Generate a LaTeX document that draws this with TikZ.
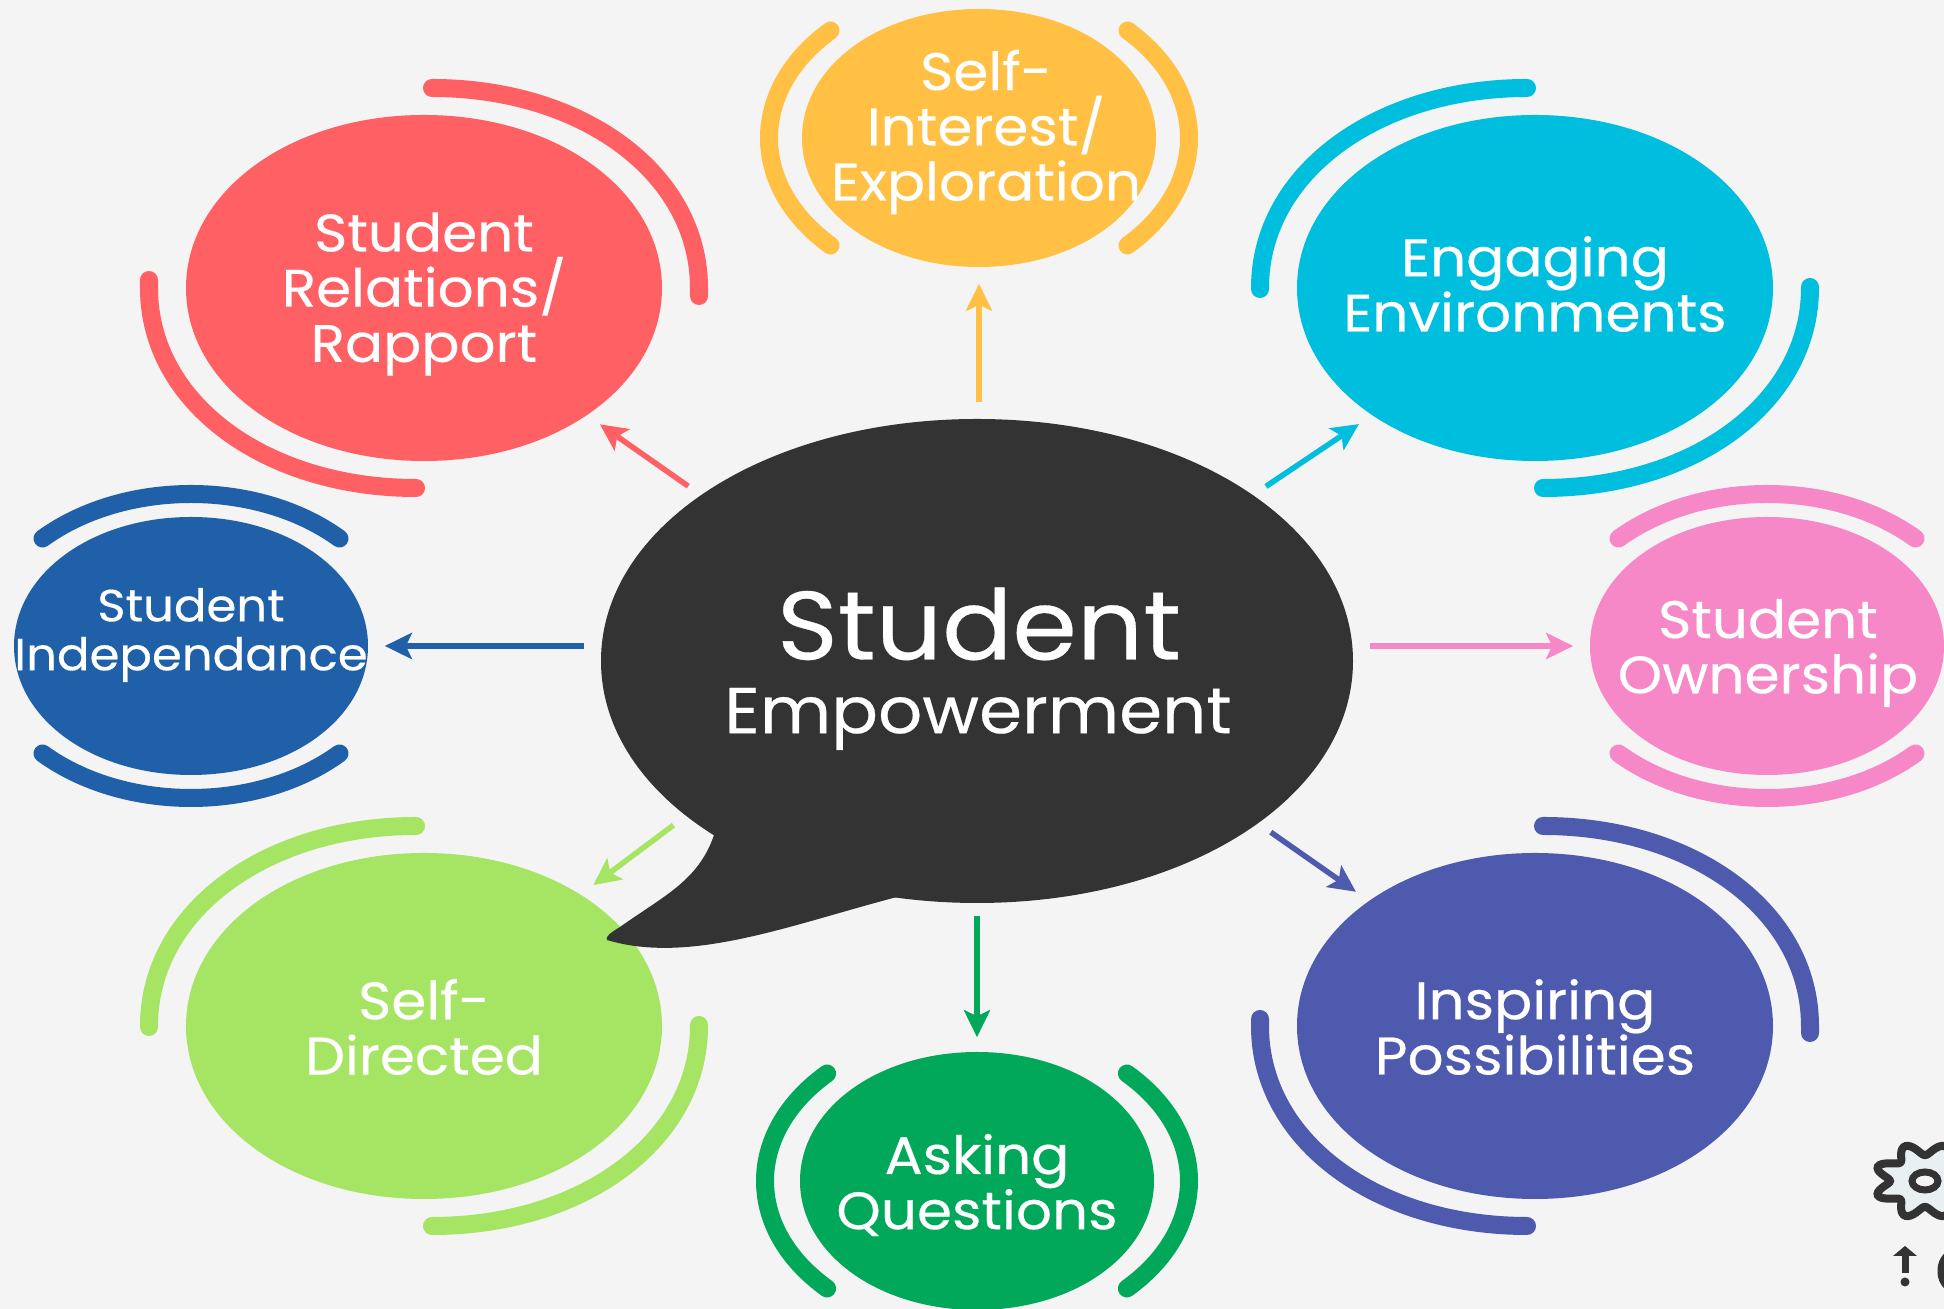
\documentclass[tikz,border=0pt]{standalone}
\usepackage{fontspec}
\setmainfont{Poppins}[FakeStretch=1.07,FakeBold=0.35]
\usetikzlibrary{arrows.meta,shapes.geometric}

\definecolor{pagegrey}{HTML}{F4F4F4}
\definecolor{inkdark}{HTML}{333333}
\definecolor{redrel}{HTML}{FF6064}
\definecolor{orangeint}{HTML}{FFC043}
\definecolor{cyanenv}{HTML}{00BEDD}
\definecolor{blueind}{HTML}{2060A8}
\definecolor{pinkown}{HTML}{F788C8}
\definecolor{limedir}{HTML}{A6E463}
\definecolor{greenask}{HTML}{02A85A}
\definecolor{indigoins}{HTML}{4D5AAD}
\definecolor{gearpale}{HTML}{E8F0F2}

\tikzset{
  bigdisc/.style={ellipse,inner sep=0pt,minimum width=4.76cm,minimum height=3.46cm},
  smalldisc/.style={ellipse,inner sep=0pt,minimum width=3.54cm,minimum height=2.58cm},
  disctext/.style={text=white,align=center,font=\fontsize{15}{15.7}\selectfont},
  ring/.style={line width=0.18cm,line cap=round},
  spoke/.style={-{Stealth[length=0.27cm,width=0.26cm,inset=0.06cm]},line width=0.055cm,
                shorten <=0.16cm,shorten >=0.16cm},
}

% a slightly fuller oval than the ellipse: colour, node, half width, half height
\newcommand{\blob}[4]{\fill[#1] (#2.center) ++(#3,0)
  .. controls +(0,.56*#4) and +(.56*#3,0) .. ++(-#3,#4)
  .. controls +(-.56*#3,0) and +(0,.56*#4) .. ++(-#3,-#4)
  .. controls +(0,-.56*#4) and +(-.56*#3,0) .. ++(#3,-#4)
  .. controls +(.56*#3,0) and +(0,-.56*#4) .. ++(#3,#4) -- cycle;}
% the two quarter rings of a big disc: colour, node, mirror, overshoot
\newcommand{\rings}[4]{\foreach \turn in {0,180}
  \draw[ring,#1,shift={(#2.center)},rotate=\turn,xscale=#3] (8,200)
    .. controls (158,200) and (275,115) .. (275,0) -- (275,-#4);}

\begin{document}
\begin{tikzpicture}[x=0.01cm,y=0.01cm]
  \useasboundingbox[fill=pagegrey] (0,0) rectangle (1944,1309);

  % outer discs
  \node[bigdisc]   (relations) at (424,1021)  {};
  \node[bigdisc]   (engaging)  at (1535,1021) {};
  \node[bigdisc]   (directed)  at (424,283)   {};
  \node[bigdisc]   (inspiring) at (1535,283)  {};
  \node[smalldisc] (interest)  at (979,1171)  {};
  \node[smalldisc] (asking)    at (977,128)   {};
  \node[smalldisc] (independ)  at (191,663)   {};
  \node[smalldisc] (ownership) at (1767,663)  {};
  \blob{redrel}{relations}{238}{173}
  \blob{cyanenv}{engaging}{238}{173}
  \blob{limedir}{directed}{238}{173}
  \blob{indigoins}{inspiring}{238}{173}
  \blob{orangeint}{interest}{177}{129}
  \blob{greenask}{asking}{177}{129}
  \blob{blueind}{independ}{177}{129}
  \blob{pinkown}{ownership}{177}{129}

  % their texts
  \node[disctext] (relationstext) at (424,1015)  {Student\\Relations/\\Rapport};
  \node[disctext] (engagingtext)  at (1535,1025) {Engaging\\Environments};
  \node[disctext] (directedtext)  at (424,282)   {Self-\\Directed};
  \node[disctext] (inspiringtext) at (1535,282)  {Inspiring\\Possibilities};
  \node[disctext] (interesttext)  at (986,1177)  {Self-\\Interest/\\Exploration};
  \node[disctext] (askingtext)    at (977,124)   {Asking\\Questions};
  \node[disctext,font=\fontsize{12.8}{13.9}\selectfont] (independtext) at (191,674) {Student\\Independance};
  \node[disctext] (ownershiptext) at (1768,656)  {Student\\Ownership};

  % speech bubble
  \node[ellipse,inner sep=0pt,minimum width=7.52cm,minimum height=4.84cm] (bubble) at (977,648) {};
  \blob{inkdark}{bubble}{376}{242}
  \fill[inkdark] (715,477) .. controls (700,429) and (665,414) .. (620,382)
        .. controls (610,376) and (605,372) .. (607,369)
        .. controls (690,344) and (790,384) .. (897,412) -- (977,509) -- cycle;
  \node[text=white,font=\fontsize{27.6}{27.6}\selectfont] (bubbletop) at (979,685) {Student};
  \node[text=white,font=\fontsize{18.4}{18.4}\selectfont] (bubblelow) at (978,590) {Empowerment};

  % rings
  \rings{redrel}{relations}{1}{8}
  \rings{indigoins}{inspiring}{1}{7}
  \rings{cyanenv}{engaging}{-1}{1}
  \rings{limedir}{directed}{-1}{1}
  \draw[ring,orangeint] (interest.center) ++(135:210 and 152) arc (135:225:210 and 152);
  \draw[ring,orangeint] (interest.center) ++(45:210 and 152) arc (45:-45:210 and 152);
  \draw[ring,greenask]  (asking.center) ++(135:212 and 152) arc (135:225:212 and 152);
  \draw[ring,greenask]  (asking.center) ++(45:212 and 152) arc (45:-45:212 and 152);
  \draw[ring,blueind]   (independ.center) ++(45:210 and 152) arc (45:135:210 and 152);
  \draw[ring,blueind]   (independ.center) ++(225:210 and 152) arc (225:315:210 and 152);
  \draw[ring,pinkown]   (ownership.center) ++(45:210 and 152) arc (45:135:210 and 152);
  \draw[ring,pinkown]   (ownership.center) ++(225:210 and 152) arc (225:315:210 and 152);

  % arrows
  \draw[spoke,orangeint] (interest.270 |- bubble.90) -- (interest.270);
  \draw[spoke,redrel]    (bubble.149) -- (relations.322);
  \draw[spoke,cyanenv]   (bubble.31)  -- (engaging.218);
  \draw[spoke,blueind]   (independ.0 -| bubble.180) -- (independ.0);
  \draw[spoke,pinkown]   (ownership.180 -| bubble.0) -- (ownership.180);
  \draw[spoke,limedir]   (bubble.208) -- (directed.40);
  \draw[spoke,indigoins] (bubble.330) -- (inspiring.143);
  \draw[spoke,greenask,shorten <=0.12cm,shorten >=0.14cm] (bubble.270) -- (asking.90);

  % cut off icons in the corner
  \draw[inkdark,fill=gearpale,line width=0.08cm] plot[domain=0:360,samples=145,smooth]
        ({1925+(43-8*cos(8*\x))*cos(\x)},{128+0.74*(43-8*cos(8*\x))*sin(\x)}) -- cycle;
  \draw[inkdark,fill=pagegrey,line width=0.07cm] (1925,128) ellipse (13 and 9);
  \fill[inkdark] (1893,53) -- (1905,63) -- (1917,53) -- cycle;
  \draw[inkdark,line width=0.07cm] (1905,55) -- (1905,36);
  \fill[inkdark] (1905,27) circle (4.5);
  \draw[inkdark,line width=0.07cm,rounded corners=0.2cm] (1990,59) -- (1941,59) -- (1941,17) -- (1990,17);
\end{tikzpicture}
\end{document}
